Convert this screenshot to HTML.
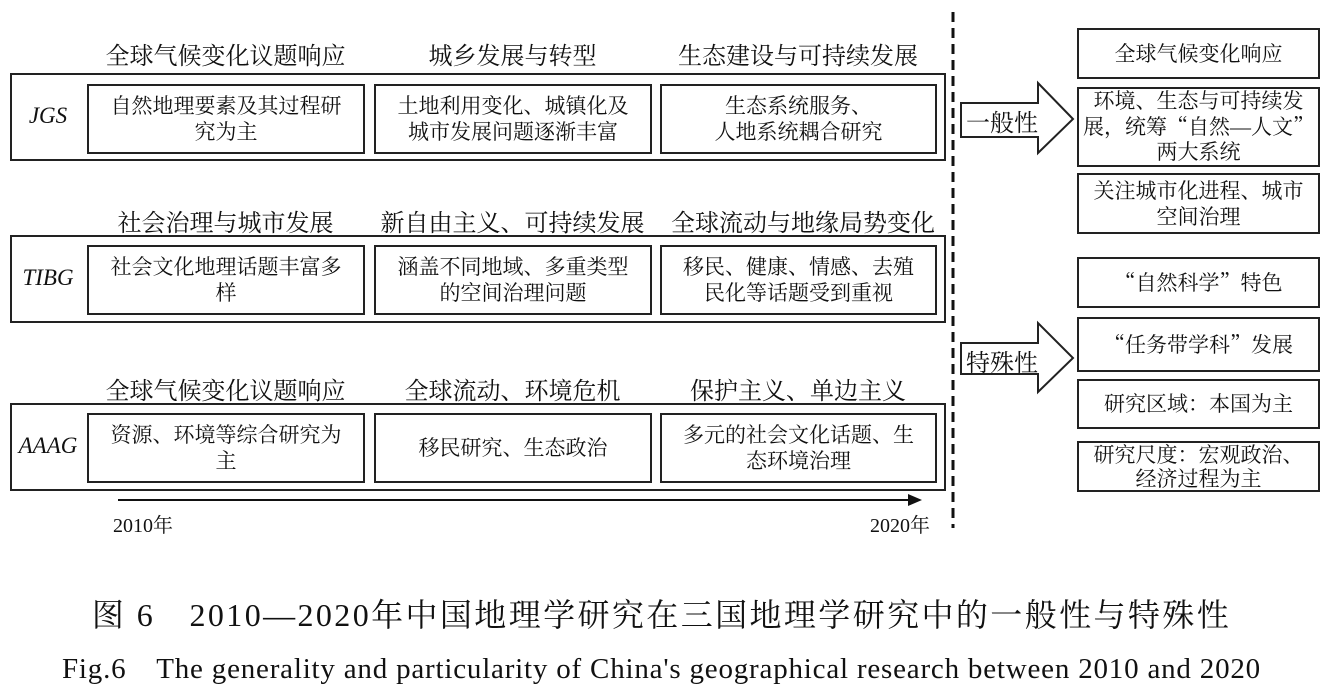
<!DOCTYPE html>
<html><head><meta charset="utf-8"><style>
body{margin:0;width:1323px;height:693px;background:#fff;position:relative;overflow:hidden;font-family:"Liberation Serif","Noto Serif CJK SC",serif;color:#111}
.b{position:absolute;border:2px solid #222;box-sizing:border-box}
.in{display:flex;align-items:center;justify-content:center;text-align:center;font-size:21px;line-height:26px;padding:0;white-space:nowrap}
.t{position:absolute;font-size:24px;text-align:center;white-space:nowrap}
.lab{position:absolute;font-style:italic;font-size:23px;text-align:center;width:76px;left:10px}
.q{font-family:"Noto Serif CJK SC",serif}
</style></head><body>
<div class="t" style="left:87px;width:277px;top:36px">全球气候变化议题响应</div>
<div class="t" style="left:374px;width:277px;top:36px">城乡发展与转型</div>
<div class="t" style="left:655px;width:286px;top:36px">生态建设与可持续发展</div>
<div class="t" style="left:87px;width:277px;top:203px">社会治理与城市发展</div>
<div class="t" style="left:374px;width:277px;top:203px">新自由主义、可持续发展</div>
<div class="t" style="left:660px;width:286px;top:203px">全球流动与地缘局势变化</div>
<div class="t" style="left:87px;width:277px;top:371px">全球气候变化议题响应</div>
<div class="t" style="left:374px;width:277px;top:371px">全球流动、环境危机</div>
<div class="t" style="left:655px;width:286px;top:371px">保护主义、单边主义</div>

<div class="b" style="left:10px;top:73px;width:936px;height:88px"></div>
<div class="lab" style="top:103px">JGS</div>
<div class="b in" style="left:87px;top:84px;width:278px;height:70px"><div>自然地理要素及其过程研<br>究为主</div></div>
<div class="b in" style="left:374px;top:84px;width:278px;height:70px"><div>土地利用变化、城镇化及<br>城市发展问题逐渐丰富</div></div>
<div class="b in" style="left:660px;top:84px;width:277px;height:70px"><div>生态系统服务、<br>人地系统耦合研究</div></div>

<div class="b" style="left:10px;top:235px;width:936px;height:88px"></div>
<div class="lab" style="top:265px">TIBG</div>
<div class="b in" style="left:87px;top:245px;width:278px;height:70px"><div>社会文化地理话题丰富多<br>样</div></div>
<div class="b in" style="left:374px;top:245px;width:278px;height:70px"><div>涵盖不同地域、多重类型<br>的空间治理问题</div></div>
<div class="b in" style="left:660px;top:245px;width:277px;height:70px"><div>移民、健康、情感、去殖<br>民化等话题受到重视</div></div>

<div class="b" style="left:10px;top:403px;width:936px;height:88px"></div>
<div class="lab" style="top:433px">AAAG</div>
<div class="b in" style="left:87px;top:413px;width:278px;height:70px"><div>资源、环境等综合研究为<br>主</div></div>
<div class="b in" style="left:374px;top:413px;width:278px;height:70px"><div>移民研究、生态政治</div></div>
<div class="b in" style="left:660px;top:413px;width:277px;height:70px"><div>多元的社会文化话题、生<br>态环境治理</div></div>

<svg style="position:absolute;left:0;top:0" width="1323" height="693">
<line x1="118" y1="500" x2="916" y2="500" stroke="#111" stroke-width="2"/>
<polygon points="922,500 908,494 908,506" fill="#111"/>
<line x1="953" y1="12" x2="953" y2="528" stroke="#111" stroke-width="3" stroke-dasharray="10,6"/>
<polygon points="961,103 1038,103 1038,83 1073,119 1038,153 1038,137 961,137" fill="#fff" stroke="#222" stroke-width="2"/>
<polygon points="961,343 1038,343 1038,323 1073,358 1038,392 1038,374 961,374" fill="#fff" stroke="#222" stroke-width="2"/>
</svg>
<div class="t" style="left:113px;top:509px;font-size:20px">2010年</div>
<div class="t" style="left:870px;top:509px;font-size:20px">2020年</div>
<div class="t" style="left:966px;top:103px;font-size:24px">一般性</div>
<div class="t" style="left:966px;top:343px;font-size:24px">特殊性</div>

<div class="b in" style="left:1077px;top:28px;width:243px;height:51px"><div>全球气候变化响应</div></div>
<div class="b in" style="left:1077px;top:87px;width:243px;height:80px;line-height:25px"><div>环境、生态与可持续发<br>展，统筹<span class="q">“</span>自然—人文<span class="q">”</span><br>两大系统</div></div>
<div class="b in" style="left:1077px;top:173px;width:243px;height:61px"><div>关注城市化进程、城市<br>空间治理</div></div>
<div class="b in" style="left:1077px;top:257px;width:243px;height:51px"><div><span class="q">“</span>自然科学<span class="q">”</span>特色</div></div>
<div class="b in" style="left:1077px;top:317px;width:243px;height:55px"><div><span class="q">“</span>任务带学科<span class="q">”</span>发展</div></div>
<div class="b in" style="left:1077px;top:379px;width:243px;height:50px"><div>研究区域：本国为主</div></div>
<div class="b in" style="left:1077px;top:441px;width:243px;height:51px;line-height:24px"><div>研究尺度：宏观政治、<br>经济过程为主</div></div>

<div class="t" style="left:0;width:1323px;top:590px;font-size:32px;letter-spacing:2.4px">图 6　2010—2020年中国地理学研究在三国地理学研究中的一般性与特殊性</div>
<div class="t" style="left:0;width:1323px;top:646px;font-size:29px;letter-spacing:0.8px">Fig.6　The generality and particularity of China's geographical research between 2010 and 2020</div>
</body></html>
